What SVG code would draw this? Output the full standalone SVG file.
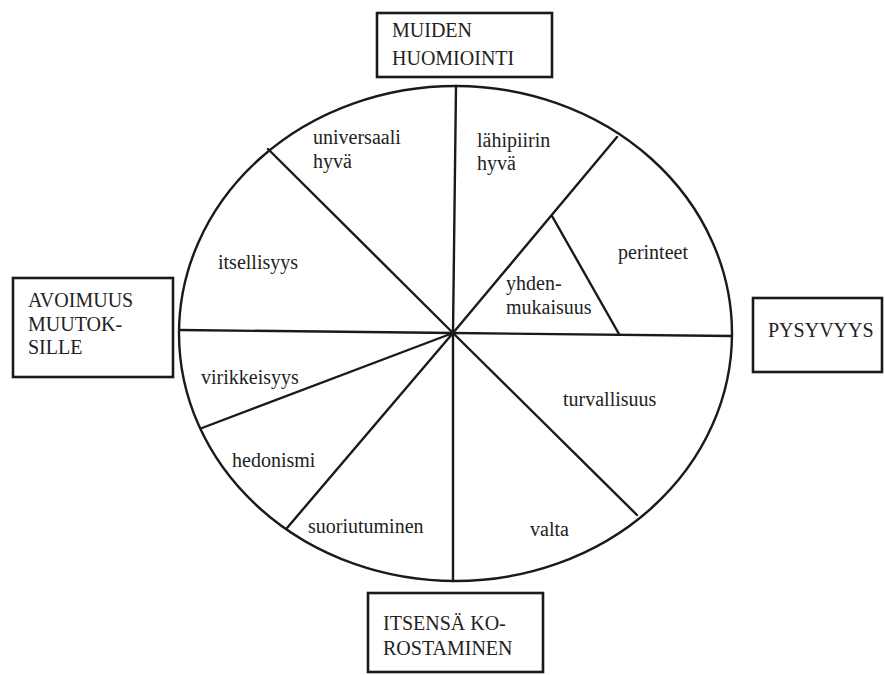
<svg xmlns="http://www.w3.org/2000/svg" width="885" height="675" viewBox="0 0 885 675">
<style>
  .bg { fill: #ffffff; }
  .box { fill: #ffffff; stroke: #1a1a1a; stroke-width: 2.6; }
  .ring { fill: none; stroke: #1a1a1a; stroke-width: 2.4; }
  .ln { stroke: #1a1a1a; stroke-width: 2.4; fill: none; stroke-linecap: round; }
  text { font-family: "Liberation Serif", "Times New Roman", serif; font-size: 20px; fill: #222222; }
</style>
<rect class="bg" x="0" y="0" width="885" height="675"/>

<g id="wheel">
  <ellipse class="ring" cx="455.5" cy="333.5" rx="276.5" ry="247.5"/>
</g>

<g id="connectors">
  <line class="ln" x1="456" y1="86" x2="453" y2="333"/>
  <line class="ln" x1="453" y1="333" x2="453" y2="581"/>
  <line class="ln" x1="453" y1="333" x2="732" y2="336"/>
  <line class="ln" x1="180" y1="330" x2="453" y2="333"/>
  <line class="ln" x1="268" y1="149" x2="453" y2="333"/>
  <line class="ln" x1="617" y1="137" x2="453" y2="333"/>
  <line class="ln" x1="552" y1="216" x2="619" y2="334"/>
  <line class="ln" x1="202" y1="428" x2="453" y2="333"/>
  <line class="ln" x1="287" y1="528" x2="453" y2="333"/>
  <line class="ln" x1="637" y1="515" x2="453" y2="333"/>
</g>

<g id="box-muiden">
  <rect class="box" x="377" y="13" width="175" height="64"/>
  <text x="392" y="37">MUIDEN</text>
  <text x="392" y="65">HUOMIOINTI</text>
</g>
<g id="box-avoimuus">
  <rect class="box" x="13" y="278" width="160" height="99"/>
  <text x="28" y="307">AVOIMUUS</text>
  <text x="28" y="331">MUUTOK-</text>
  <text x="28" y="354">SILLE</text>
</g>
<g id="box-pysyvyys">
  <rect class="box" x="753" y="298" width="129" height="74"/>
  <text x="768" y="337">PYSYVYYS</text>
</g>
<g id="box-itsensa">
  <rect class="box" x="368" y="593" width="175" height="79"/>
  <text x="383" y="630">ITSENSÄ KO-</text>
  <text x="383" y="655">ROSTAMINEN</text>
</g>

<g id="seg-universaali">
  <text x="313" y="144">universaali</text>
  <text x="313" y="168">hyvä</text>
</g>
<g id="seg-lahipiirin">
  <text x="477" y="147">lähipiirin</text>
  <text x="477" y="170">hyvä</text>
</g>
<g id="seg-itsellisyys"><text x="218" y="269">itsellisyys</text></g>
<g id="seg-perinteet"><text x="618" y="259">perinteet</text></g>
<g id="seg-yhdenmukaisuus">
  <text x="506" y="290">yhden-</text>
  <text x="506" y="314">mukaisuus</text>
</g>
<g id="seg-virikkeisyys"><text x="201" y="384">virikkeisyys</text></g>
<g id="seg-turvallisuus"><text x="563" y="406">turvallisuus</text></g>
<g id="seg-hedonismi"><text x="232" y="467">hedonismi</text></g>
<g id="seg-suoriutuminen"><text x="308" y="533">suoriutuminen</text></g>
<g id="seg-valta"><text x="530" y="536">valta</text></g>
</svg>
